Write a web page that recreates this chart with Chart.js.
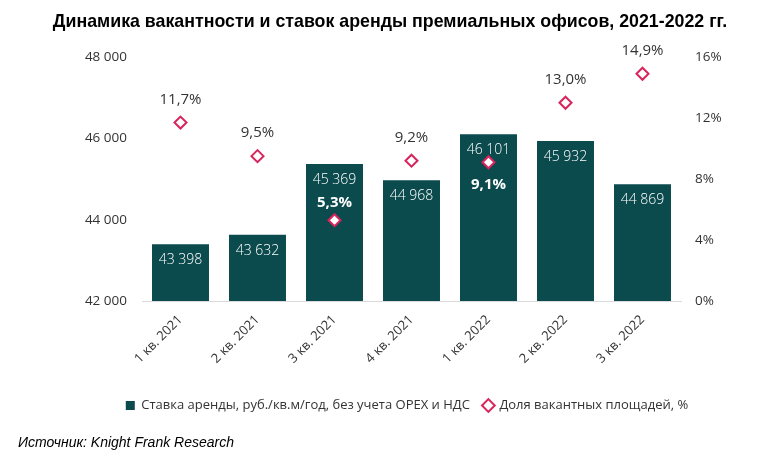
<!DOCTYPE html>
<html lang="ru">
<head>
    <meta charset="UTF-8">
    <title>Динамика вакантности и ставок аренды</title>
    <script src="https://cdn.jsdelivr.net/npm/chart.js"></script>
    <style>
        html, body { margin: 0; padding: 0; background: #fff; }
        .wrap { position: relative; width: 780px; height: 467px; }
        #chart { position: absolute; left: 0; top: 0; }
        .title {
            position: absolute; left: 0; top: 11px; width: 780px; text-align: center;
            font: bold 17.8px "Liberation Sans", Arial, sans-serif; color: #000;
        }
        .source {
            position: absolute; left: 18px; top: 434px;
            font: italic 14px "Liberation Sans", Arial, sans-serif; color: #000;
        }
    </style>
</head>
<body>
<div class="wrap">
    <canvas id="chart" width="780" height="467"></canvas>
    <div class="title">Динамика вакантности и ставок аренды премиальных офисов, 2021-2022 гг.</div>
    <div class="source">Источник: Knight Frank Research</div>
</div>

<script>
// data
const quarters = ['1 кв. 2021', '2 кв. 2021', '3 кв. 2021', '4 кв. 2021', '1 кв. 2022', '2 кв. 2022', '3 кв. 2022'];
const rentRates = [43398, 43632, 45369, 44968, 46101, 45932, 44869];
const vacancy = [11.7, 9.5, 5.3, 9.2, 9.1, 13.0, 14.9];
// where the vacancy label sits: 'up' = above in grey, 'upIn' / 'downIn' = white bold inside bar
const vacancyLabelPos = ['up', 'up', 'upIn', 'up', 'downIn', 'up', 'up'];

const rentTicks = [42000, 44000, 46000, 48000];
const vacancyTicks = [0, 4, 8, 12, 16];

const BAR = '#0b4a4d';
const PINK = '#d9245c';
const FONT = '"Open Sans", sans-serif';

function fmtThousands(v) {
    return String(v).replace(/\B(?=(\d{3})+(?!\d))/g, ' ');
}
function fmtPct(v) {
    return v.toFixed(1).replace('.', ',') + '%';
}

// draws values on bars and vacancy points
const valueLabels = {
    id: 'valueLabels',
    afterDatasetsDraw(chart) {
        const ctx = chart.ctx;
        ctx.save();
        ctx.textAlign = 'center';
        ctx.textBaseline = 'middle';

        chart.getDatasetMeta(0).data.forEach((el, i) => {
            ctx.fillStyle = '#ffffff';
            ctx.font = '300 14px ' + FONT;
            ctx.fillText(fmtThousands(rentRates[i]), el.x, el.y + 16);
        });

        chart.getDatasetMeta(1).data.forEach((el, i) => {
            const pos = vacancyLabelPos[i];
            if (pos === 'up') {
                ctx.fillStyle = '#333333';
                ctx.font = '15px ' + FONT;
                ctx.fillText(fmtPct(vacancy[i]), el.x, el.y - 23);
            } else {
                ctx.fillStyle = '#ffffff';
                ctx.font = 'bold 15px ' + FONT;
                const dy = pos === 'upIn' ? -17 : 23;
                ctx.fillText(fmtPct(vacancy[i]), el.x, el.y + dy);
            }
        });
        ctx.restore();
    }
};

new Chart(document.getElementById('chart'), {
    type: 'bar',
    data: {
        labels: quarters,
        datasets: [{
            type: 'bar',
            label: 'Ставка аренды, руб./кв.м/год, без учета OPEX и НДС',
            data: rentRates,
            backgroundColor: BAR,
            borderWidth: 0,
            categoryPercentage: 1,
            barPercentage: 0.74,
            pointStyle: 'rect',
            yAxisID: 'y',
            order: 1
        }, {
            type: 'line',
            label: 'Доля вакантных площадей, %',
            data: vacancy,
            showLine: false,
            pointStyle: 'rectRot',
            pointRadius: 6,
            pointBorderWidth: 2,
            pointBackgroundColor: '#ffffff',
            pointBorderColor: PINK,
            backgroundColor: '#ffffff',
            borderColor: PINK,
            borderWidth: 2,
            yAxisID: 'y1',
            order: 0
        }]
    },
    options: {
        responsive: false,
        animation: false,
        layout: { padding: { top: 57, left: 34, right: 0, bottom: 45 } },
        scales: {
            x: {
                grid: { display: false },
                border: { display: true, color: '#d9d9d9' },
                ticks: {
                    maxRotation: 45, minRotation: 45,
                    color: '#333',
                    font: { family: FONT, size: 13 }
                },
                afterFit(scale) { scale.height = 84; }
            },
            y: {
                position: 'left',
                min: 42000, max: 48000,
                afterBuildTicks(scale) { scale.ticks = rentTicks.map(v => ({ value: v })); },
                grid: { display: false, drawTicks: false },
                border: { display: false },
                ticks: {
                    padding: 15,
                    color: '#333',
                    font: { family: FONT, size: 13.5 },
                    callback: v => fmtThousands(v)
                },
                afterFit(scale) { scale.width = 108; }
            },
            y1: {
                position: 'right',
                min: 0, max: 16,
                afterBuildTicks(scale) { scale.ticks = vacancyTicks.map(v => ({ value: v })); },
                grid: { display: false, drawTicks: false },
                border: { display: false },
                ticks: {
                    padding: 14,
                    color: '#333',
                    font: { family: FONT, size: 13.5 },
                    callback: v => v + '%'
                },
                afterFit(scale) { scale.width = 99; }
            }
        },
        plugins: {
            title: { display: false },
            tooltip: { enabled: false },
            legend: {
                position: 'bottom',
                labels: {
                    usePointStyle: true,
                    boxWidth: 9,
                    boxHeight: 9,
                    padding: 14,
                    color: '#333',
                    sort: (a, b) => a.datasetIndex - b.datasetIndex,
                    font: { family: FONT, size: 13 }
                }
            }
        }
    },
    plugins: [valueLabels]
});
</script>
</body>
</html>
